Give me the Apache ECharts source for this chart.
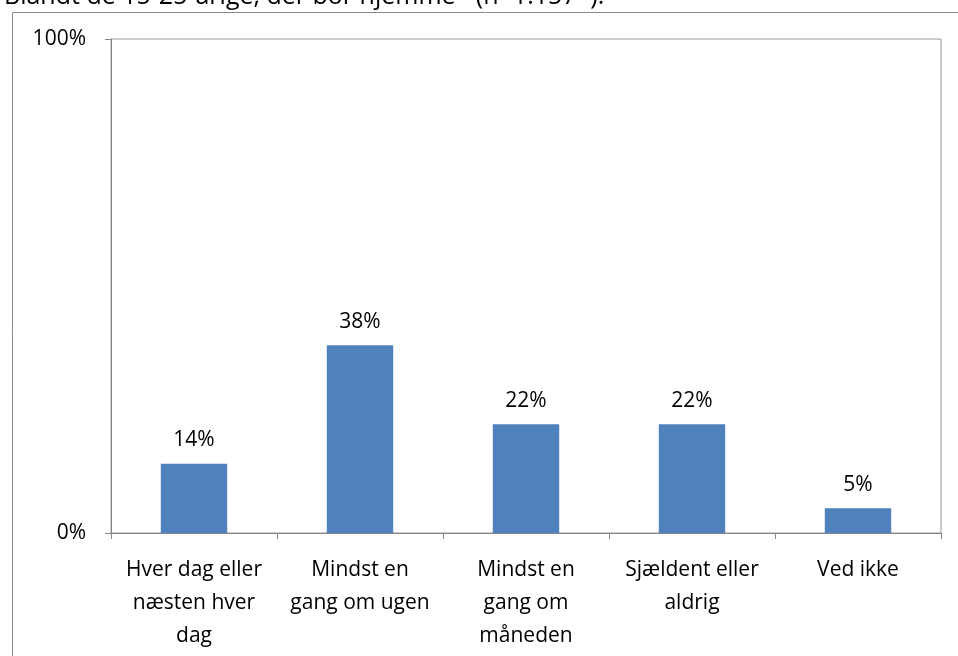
<!DOCTYPE html>
<html>
<head>
<meta charset="utf-8">
<script src="https://cdn.jsdelivr.net/npm/echarts@6/dist/echarts.min.js"></script>
<style>
html,body{margin:0;padding:0;background:#fff;}
#chart{width:958px;height:656px;}
</style>
</head>
<body>
<div id="chart"></div>
<script>
const categories = ["Hver dag eller\nnæsten hver\ndag", "Mindst en\ngang om ugen", "Mindst en\ngang om\nmåneden", "Sjældent eller\naldrig", "Ved ikke"];
const values = [14, 38, 22, 22, 5];
const yTicks = [0, 100];
const titleText = "Blandt de 15-25-årige, der bor hjemme* (n=1.157*).";

const FONT = "Open Sans";
const chart = echarts.init(document.getElementById('chart'), null, {renderer: 'canvas'});
chart.setOption({
  animation: false,
  backgroundColor: '#fff',
  textStyle: {fontFamily: FONT},
  title: {
    text: titleText,
    left: -1, top: -21,
    textStyle: {fontFamily: FONT, fontSize: 25, fontWeight: 'normal', color: '#000'}
  },
  graphic: [{
    type: 'rect',
    left: 10, top: 10,
    shape: {x: 0, y: 0, width: 960, height: 660},
    style: {fill: 'none', stroke: '#888', lineWidth: 1}
  }],
  grid: {
    left: 111, right: 17, top: 39, bottom: 123,
    show: true, borderColor: '#999', borderWidth: 1, backgroundColor: 'transparent'
  },
  xAxis: {
    type: 'category',
    data: categories,
    axisLine: {lineStyle: {color: '#868686', width: 1}},
    axisTick: {show: true, length: 6, lineStyle: {color: '#868686'}},
    axisLabel: {
      color: '#000', fontSize: 21, fontFamily: FONT, lineHeight: 33,
      interval: 0, margin: 21, align: 'center'
    }
  },
  yAxis: {
    type: 'value',
    min: 0, max: 100, interval: 100,
    axisLine: {show: true, lineStyle: {color: '#868686', width: 1}},
    axisTick: {show: true, length: 6, lineStyle: {color: '#868686'}},
    splitLine: {show: false},
    axisLabel: {
      color: '#000', fontSize: 21, fontFamily: FONT, margin: 25,
      formatter: function (v) { return yTicks.indexOf(v) >= 0 ? v + '%' : ''; }
    }
  },
  series: [{
    type: 'bar',
    data: values,
    barWidth: '40%',
    itemStyle: {color: '#4F81BD'},
    label: {
      show: true, position: 'top', distance: 13,
      formatter: '{c}%',
      color: '#000', fontSize: 21, fontFamily: FONT
    }
  }]
});
</script>
</body>
</html>
